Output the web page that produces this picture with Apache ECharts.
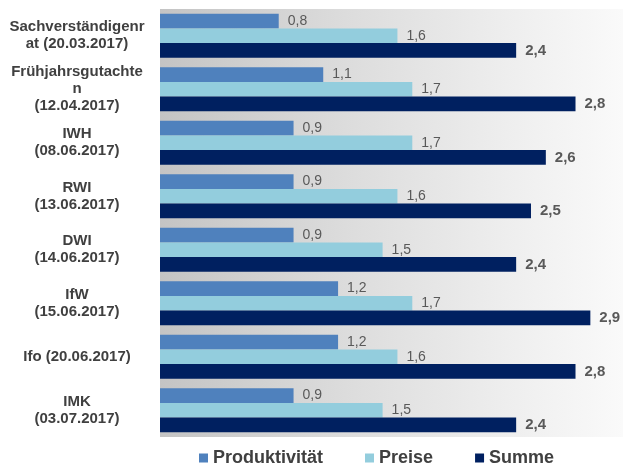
<!DOCTYPE html>
<html>
<head>
<meta charset="utf-8">
<script src="https://cdn.jsdelivr.net/npm/echarts@6/dist/echarts.min.js"></script>
<style>
    html, body { margin: 0; padding: 0; background: #fff; }
    #chart { width: 623px; height: 468px; }
</style>
</head>
<body>
<div id="chart"></div>
<script>
var categories = [
    "Sachverständigenr\nat (20.03.2017)",
    "Frühjahrsgutachte\nn\n(12.04.2017)",
    "IWH\n(08.06.2017)",
    "RWI\n(13.06.2017)",
    "DWI\n(14.06.2017)",
    "IfW\n(15.06.2017)",
    "Ifo (20.06.2017)",
    "IMK\n(03.07.2017)"
];
var produktivitaet = [0.8, 1.1, 0.9, 0.9, 0.9, 1.2, 1.2, 0.9];
var preise = [1.6, 1.7, 1.7, 1.6, 1.5, 1.7, 1.6, 1.5];
var summe = [2.4, 2.8, 2.6, 2.5, 2.4, 2.9, 2.8, 2.4];

var fontName = "'Liberation Sans', Arial, sans-serif";

// Komma statt Punkt
var komma = function (p) {
    return p.value.toFixed(1).replace('.', ',');
}

var myChart = echarts.init(document.getElementById('chart'));

var option = {
    animation: false,
    textStyle: { fontFamily: fontName },
    grid: {
        left: 160,
        right: 0,
        top: 9,
        bottom: 31,
        show: true,
        borderWidth: 0,
        backgroundColor: new echarts.graphic.LinearGradient(0, 0, 1, 0, [
            { offset: 0, color: '#c4c4c4' },
            { offset: 0.4, color: '#dcdcdc' },
            { offset: 0.75, color: '#eeeeee' },
            { offset: 1, color: '#fafafa' }
        ])
    },
    legend: {
        left: 194,
        bottom: -4,
        itemWidth: 9,
        itemHeight: 9,
        itemGap: 42,
        icon: 'rect',
        textStyle: {
            fontSize: 18,
            fontWeight: 'bold',
            color: '#404040',
            fontFamily: fontName
        },
        data: ['Produktivität', 'Preise', 'Summe']
    },
    xAxis: {
        type: 'value',
        min: 0,
        max: 3.12,
        show: false
    },
    yAxis: {
        type: 'category',
        inverse: true,
        data: categories,
        axisLine: { show: false },
        axisTick: { show: false },
        splitLine: { show: false },
        axisLabel: {
            align: 'center',
            margin: 83,
            fontSize: 15,
            fontWeight: 'bold',
            lineHeight: 17,
            color: '#404040',
            fontFamily: fontName
        }
    },
    series: [
        {
            name: 'Produktivität',
            type: 'bar',
            data: produktivitaet,
            barGap: '0%',
            barCategoryGap: '18%',
            itemStyle: { color: '#4f81bd' },
            label: {
                show: true,
                position: 'right',
                distance: 9,
                formatter: komma,
                fontSize: 14,
                color: '#595959'
            }
        },
        {
            name: 'Preise',
            type: 'bar',
            data: preise,
            barGap: '0%',
            barCategoryGap: '18%',
            itemStyle: { color: '#93cddd' },
            label: {
                show: true,
                position: 'right',
                distance: 9,
                formatter: komma,
                fontSize: 14,
                color: '#595959'
            }
        },
        {
            name: 'Summe',
            type: 'bar',
            data: summe,
            barGap: '0%',
            barCategoryGap: '18%',
            itemStyle: { color: '#002060' },
            label: {
                show: true,
                position: 'right',
                distance: 9,
                formatter: komma,
                fontSize: 15,
                fontWeight: 'bold',
                color: '#595959'
            }
        }
    ]
};

myChart.setOption(option);
</script>
</body>
</html>
